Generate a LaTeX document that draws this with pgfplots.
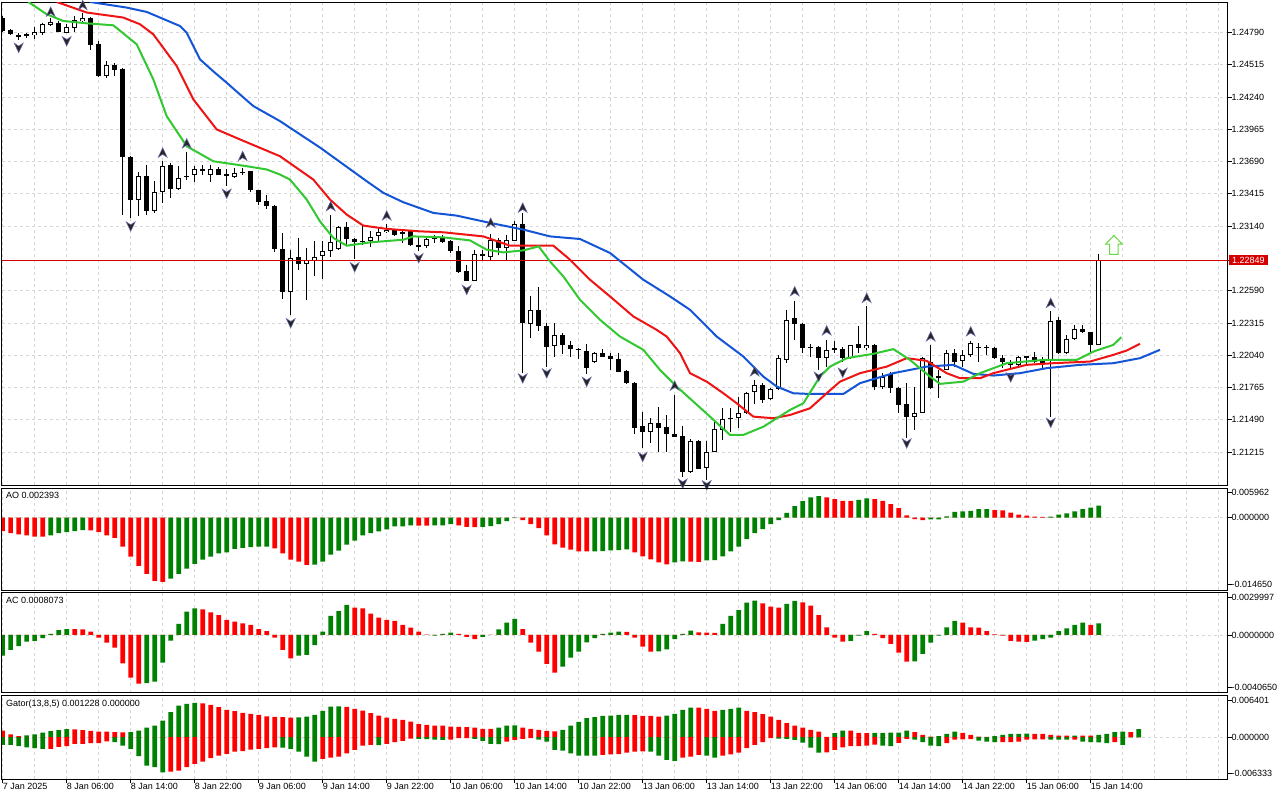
\documentclass[border=0pt]{standalone}
\usepackage{fontspec}
\setmainfont{Liberation Sans}
\usepackage{pgfplots}
\usepackage{pgfplotstable}
\pgfplotsset{compat=1.18}

\definecolor{mtgreen}{RGB}{0,128,0}
\definecolor{mtred}{RGB}{255,0,0}
\definecolor{jawc}{RGB}{20,85,215}
\definecolor{teethc}{RGB}{238,20,20}
\definecolor{lipsc}{RGB}{50,200,50}
\definecolor{gridc}{RGB}{215,215,215}
\definecolor{pricered}{RGB}{215,0,0}
\definecolor{arrowg}{RGB}{105,215,70}

\pgfdeclareplotmark{fup}{%
  \pgfpathmoveto{\pgfqpoint{0pt}{5pt}}%
  \pgfpathlineto{\pgfqpoint{4.5pt}{-4.5pt}}%
  \pgfpathlineto{\pgfqpoint{0pt}{-1.5pt}}%
  \pgfpathlineto{\pgfqpoint{-4.5pt}{-4.5pt}}%
  \pgfpathclose\pgfusepathqfillstroke}
\pgfdeclareplotmark{fdn}{%
  \pgfpathmoveto{\pgfqpoint{0pt}{-5pt}}%
  \pgfpathlineto{\pgfqpoint{4.5pt}{4.5pt}}%
  \pgfpathlineto{\pgfqpoint{0pt}{1.5pt}}%
  \pgfpathlineto{\pgfqpoint{-4.5pt}{4.5pt}}%
  \pgfpathclose\pgfusepathqfillstroke}
\pgfdeclareplotmark{bigup}{%
  \pgfpathmoveto{\pgfqpoint{0pt}{9.5pt}}%
  \pgfpathlineto{\pgfqpoint{8.3pt}{0.8pt}}%
  \pgfpathlineto{\pgfqpoint{4.2pt}{0.8pt}}%
  \pgfpathlineto{\pgfqpoint{4.2pt}{-9.5pt}}%
  \pgfpathlineto{\pgfqpoint{-4.2pt}{-9.5pt}}%
  \pgfpathlineto{\pgfqpoint{-4.2pt}{0.8pt}}%
  \pgfpathlineto{\pgfqpoint{-8.3pt}{0.8pt}}%
  \pgfpathclose\pgfusepathqstroke}

\tikzset{ptitle/.style={anchor=north west, inner sep=0pt, font=\fontsize{9}{10}\selectfont, xshift=4pt, yshift=-4.3pt}}

\pgfplotsset{
  mtaxis/.style={
    scale only axis, width=1225.5pt, xmin=-0.0875, xmax=153.1,
    anchor=north west,
    scaled y ticks=false, scaled x ticks=false,
    axis line style={line width=1pt, black},
    ytick pos=right, yticklabel pos=right,
    tick align=outside, major tick length=4pt, minor tick length=0pt,
    tick style={black, line width=0.8pt},
    grid style={dash pattern=on 3pt off 3pt, gridc, line width=0.8pt},
    every tick label/.append style={font=\fontsize{9}{10}\selectfont, inner sep=0pt},
    yticklabel style={anchor=west},
    clip=true,
  },
  topx/.style={
    xtick={0,4,...,152}, xticklabels={}, xmajorgrids,
    every x tick/.style={draw=none},
  },
  hbar/.style={ybar, bar width=4.6pt, bar shift=0pt, draw=none},
  wick/.style={draw=none, mark=none, forget plot,
    error bars/.cd, y dir=minus, y explicit, error mark=none,
    error bar style={line width=1pt, draw=black, solid}},
  body/.style 2 args={draw=none, mark=none, forget plot,
    error bars/.cd, y dir=both, y explicit, error mark=none,
    error bar style={line width=#1, draw=#2, solid}},
}

% ---------- candles (H1) ----------
\pgfplotstableread{
i o h l c
4 1.24765 1.24839 1.24737 1.24793
5 1.24788 1.24873 1.24767 1.24859
6 1.24853 1.24916 1.24844 1.24882
8 1.24788 1.24859 1.24788 1.24836
9 1.24831 1.24930 1.24793 1.24893
10 1.24887 1.24959 1.24873 1.24910
13 1.24418 1.24546 1.24404 1.24509
17 1.23360 1.23599 1.23223 1.23564
19 1.23266 1.23522 1.23252 1.23431
20 1.23428 1.23692 1.23337 1.23656
22 1.23457 1.23650 1.23450 1.23551
24 1.23579 1.23650 1.23513 1.23628
26 1.23579 1.23664 1.23513 1.23628
29 1.23559 1.23636 1.23551 1.23593
36 1.22583 1.22939 1.22384 1.22868
38 1.22817 1.22954 1.22512 1.22854
39 1.22845 1.23010 1.22711 1.22882
40 1.22882 1.23010 1.22692 1.22930
41 1.22925 1.23232 1.22873 1.23005
42 1.22945 1.23138 1.22939 1.23133
46 1.23010 1.23095 1.22959 1.23052
47 1.23061 1.23133 1.23010 1.23090
48 1.23087 1.23161 1.23081 1.23110
53 1.22967 1.23039 1.22954 1.23030
54 1.23030 1.23067 1.22996 1.23047
59 1.22677 1.22939 1.22669 1.22905
61 1.22877 1.23076 1.22839 1.23024
63 1.22954 1.23067 1.22854 1.23024
64 1.23016 1.23180 1.23010 1.23158
66 1.22308 1.22541 1.22186 1.22427
69 1.22120 1.22314 1.22029 1.22214
74 1.21981 1.22071 1.21972 1.22063
81 1.21384 1.21503 1.21290 1.21460
86 1.21047 1.21324 1.21040 1.21309
88 1.21082 1.21312 1.20977 1.21218
89 1.21218 1.21474 1.21212 1.21409
90 1.21403 1.21588 1.21318 1.21495
92 1.21503 1.21687 1.21418 1.21546
93 1.21546 1.21730 1.21540 1.21721
94 1.21730 1.21830 1.21625 1.21787
96 1.21665 1.21759 1.21659 1.21750
97 1.21750 1.22043 1.21745 1.22015
98 1.22000 1.22427 1.21972 1.22339
103 1.22015 1.22171 1.21943 1.22086
106 1.22015 1.22128 1.22010 1.22123
108 1.22100 1.22455 1.22086 1.22123
110 1.21773 1.21887 1.21750 1.21858
114 1.21517 1.21773 1.21403 1.21551
115 1.21551 1.22024 1.21545 1.22015
118 1.21915 1.22086 1.21910 1.22058
120 1.21992 1.22086 1.21943 1.22043
121 1.22043 1.22157 1.22029 1.22143
127 1.21958 1.22035 1.21943 1.22029
128 1.22024 1.22037 1.21958 1.22029
131 1.21995 1.22413 1.21517 1.22336
133 1.22058 1.22214 1.22052 1.22177
134 1.22177 1.22299 1.22171 1.22262
137 1.22128 1.22905 1.22125 1.22849
}\bull
\pgfplotstableread{
i o h l c
0 1.24910 1.24927 1.24790 1.24802
1 1.24810 1.24816 1.24765 1.24773
2 1.24767 1.24782 1.24725 1.24750
3 1.24769 1.24782 1.24739 1.24769
7 1.24867 1.24884 1.24790 1.24793
11 1.24910 1.24918 1.24639 1.24682
12 1.24688 1.24716 1.24410 1.24418
14 1.24509 1.24532 1.24418 1.24469
15 1.24475 1.24483 1.23238 1.23727
16 1.23727 1.23735 1.23209 1.23366
18 1.23570 1.23664 1.23238 1.23266
21 1.23656 1.23679 1.23380 1.23457
23 1.23570 1.23773 1.23536 1.23559
25 1.23622 1.23658 1.23579 1.23622
27 1.23628 1.23639 1.23575 1.23579
28 1.23587 1.23622 1.23479 1.23564
30 1.23599 1.23636 1.23579 1.23599
31 1.23607 1.23613 1.23428 1.23445
32 1.23445 1.23451 1.23323 1.23346
33 1.23351 1.23408 1.23286 1.23308
34 1.23314 1.23323 1.22916 1.22945
35 1.22948 1.23081 1.22518 1.22583
37 1.22877 1.23039 1.22768 1.22817
43 1.23133 1.23172 1.22982 1.23030
44 1.23030 1.23039 1.22862 1.23001
45 1.23016 1.23138 1.22982 1.23005
49 1.23104 1.23110 1.23052 1.23067
50 1.23090 1.23110 1.22996 1.23076
51 1.23101 1.23110 1.22967 1.22976
52 1.22982 1.23052 1.22925 1.22962
55 1.23047 1.23067 1.22996 1.23001
56 1.23010 1.23018 1.22911 1.22925
57 1.22933 1.22967 1.22740 1.22754
58 1.22760 1.22811 1.22669 1.22677
60 1.22905 1.22939 1.22839 1.22882
62 1.23024 1.23039 1.22896 1.22954
65 1.23158 1.23252 1.21887 1.22314
67 1.22427 1.22621 1.22250 1.22291
68 1.22291 1.22314 1.21943 1.22114
70 1.22214 1.22228 1.22052 1.22126
71 1.22126 1.22165 1.22024 1.22092
72 1.22092 1.22100 1.22006 1.22086
73 1.22080 1.22137 1.21881 1.21930
75 1.22063 1.22094 1.22024 1.22029
76 1.22035 1.22063 1.21915 1.22006
77 1.22006 1.22063 1.21895 1.21901
78 1.21909 1.21915 1.21796 1.21802
79 1.21807 1.21810 1.21369 1.21418
80 1.21437 1.21559 1.21247 1.21384
82 1.21460 1.21597 1.21218 1.21423
83 1.21431 1.21531 1.21218 1.21367
84 1.21367 1.21702 1.21340 1.21346
85 1.21352 1.21440 1.21000 1.21047
87 1.21309 1.21318 1.21070 1.21076
91 1.21503 1.21588 1.21384 1.21503
95 1.21787 1.21802 1.21631 1.21659
99 1.22356 1.22506 1.22171 1.22308
100 1.22308 1.22315 1.22063 1.22100
101 1.22109 1.22137 1.22029 1.22109
102 1.22109 1.22115 1.21915 1.22015
104 1.22094 1.22157 1.22058 1.22094
105 1.22094 1.22114 1.21986 1.22015
107 1.22137 1.22285 1.22058 1.22100
109 1.22128 1.22135 1.21745 1.21773
111 1.21878 1.21901 1.21716 1.21759
112 1.21759 1.21773 1.21546 1.21617
113 1.21625 1.21807 1.21332 1.21517
116 1.21986 1.22128 1.21752 1.21759
117 1.21858 1.21915 1.21674 1.21858
119 1.22058 1.22092 1.21943 1.21986
122 1.22109 1.22143 1.21986 1.22109
123 1.22109 1.22128 1.22043 1.22109
124 1.22100 1.22109 1.22010 1.22015
125 1.22015 1.22043 1.21930 1.21986
126 1.21986 1.22000 1.21915 1.21958
129 1.22029 1.22071 1.21972 1.21986
130 1.21995 1.22024 1.21930 1.21977
132 1.22342 1.22365 1.22052 1.22058
135 1.22265 1.22299 1.22228 1.22242
136 1.22237 1.22240 1.22071 1.22128
}\bear

% ---------- Alligator ----------
\pgfplotstableread{
i p
10.91 1.25049
15.5 1.25001
18.0 1.24964
22.16 1.24844
22.99 1.24788
23.82 1.24674
24.66 1.24560
26.29 1.24460
28.0 1.24361
29.66 1.24261
31.33 1.24162
34.66 1.24034
39.66 1.23809
45.5 1.23522
47.58 1.23423
50.08 1.23343
53.83 1.23252
56.75 1.23229
60.91 1.23167
65.08 1.23110
68.41 1.23052
72.16 1.23030
75.91 1.22911
80.08 1.22683
83.41 1.22541
85.91 1.22427
89.25 1.22199
92.58 1.22029
95.08 1.21858
96.75 1.21773
98.83 1.21716
100.91 1.21710
105.08 1.21710
107.16 1.21802
111.33 1.21887
115.5 1.21943
118.83 1.21958
121.33 1.21881
123.83 1.21867
127.16 1.21887
130.5 1.21930
134.66 1.21958
138.83 1.21972
142.16 1.22015
144.66 1.22086
}\jaw
\pgfplotstableread{
i p
6.75 1.25049
10.5 1.24959
15.08 1.24916
17.16 1.24859
18.83 1.24773
21.75 1.24503
23.83 1.24219
26.75 1.23963
29.66 1.23878
34.66 1.23735
38.83 1.23536
40.91 1.23366
43.0 1.23238
45.08 1.23144
48.0 1.23116
52.16 1.23095
55.08 1.23087
60.08 1.23052
63.41 1.22973
68.83 1.22973
70.91 1.22854
73.41 1.22683
75.91 1.22541
78.83 1.22370
81.75 1.22256
83.0 1.22199
84.66 1.22058
85.91 1.21887
88.0 1.21815
90.08 1.21716
91.75 1.21631
93.83 1.21517
96.33 1.21503
98.41 1.21531
100.91 1.21588
103.0 1.21716
104.66 1.21815
107.16 1.21887
110.5 1.21943
113.0 1.22015
115.5 1.21992
118.0 1.21887
119.66 1.21844
122.16 1.21844
123.83 1.21887
128.0 1.21958
131.33 1.21972
135.91 1.21986
138.83 1.22043
140.5 1.22080
142.16 1.22137
}\teeth
\pgfplotstableread{
i p
3.2 1.25049
5.5 1.24944
7.58 1.24887
10.5 1.24867
13.83 1.24850
16.75 1.24688
18.83 1.24389
20.5 1.24076
23.0 1.23820
26.33 1.23692
30.5 1.23650
33.0 1.23622
34.66 1.23579
35.91 1.23536
38.0 1.23366
39.66 1.23180
41.33 1.23039
43.0 1.22973
45.91 1.23001
50.08 1.23024
51.33 1.23052
55.08 1.23044
58.41 1.23018
60.5 1.22939
62.58 1.22916
65.08 1.22933
67.0 1.22967
68.41 1.22839
70.08 1.22711
72.16 1.22512
74.66 1.22342
77.16 1.22199
80.08 1.22086
82.16 1.21915
84.25 1.21773
88.41 1.21517
90.91 1.21361
92.58 1.21361
95.08 1.21431
98.41 1.21574
100.08 1.21631
102.16 1.21858
103.41 1.21943
105.5 1.22015
108.83 1.22052
111.33 1.22092
113.41 1.22000
115.91 1.21858
117.16 1.21796
120.08 1.21815
122.16 1.21887
125.5 1.21972
130.08 1.22000
134.25 1.22000
136.33 1.22071
138.83 1.22128
139.83 1.22194
}\lips

% ---------- Fractals ----------
\pgfplotstableread{
i p
6 1.24964
10 1.25021
20 1.23764
23 1.23843
30 1.23735
41 1.23308
48 1.23229
61 1.23167
65 1.23295
84 1.21779
94 1.21901
99 1.22583
103 1.22250
108 1.22527
116 1.22199
121 1.22242
131 1.22484
}\frup
\pgfplotstableread{
i p
2 1.24660
8 1.24716
16 1.23138
28 1.23417
36 1.22314
44 1.22791
52 1.22868
58 1.22598
65 1.21844
68 1.21887
73 1.21815
80 1.21175
85 1.20948
88 1.20934
102 1.21858
105 1.21892
113 1.21290
126 1.21853
131 1.21466
}\frdn

% ---------- AO ----------
\pgfplotstableread{
i v g
0 -0.00276 0
1 -0.00316 0
2 -0.00343 0
3 -0.00363 0
4 -0.00384 0
5 -0.00386 0
6 -0.00363 1
7 -0.00316 1
8 -0.00296 1
9 -0.00276 1
10 -0.00255 1
11 -0.00261 0
12 -0.00296 0
13 -0.00363 0
14 -0.00410 0
15 -0.00588 0
16 -0.00792 0
17 -0.00976 0
18 -0.01139 0
19 -0.01282 0
20 -0.01302 0
21 -0.01235 1
22 -0.01139 1
23 -0.01031 1
24 -0.00935 1
25 -0.00853 1
26 -0.00792 1
27 -0.00724 1
28 -0.00704 1
29 -0.00635 1
30 -0.00614 1
31 -0.00598 1
32 -0.00590 1
33 -0.00586 1
34 -0.00622 0
35 -0.00724 0
36 -0.00853 0
37 -0.00894 0
38 -0.00955 0
39 -0.00950 1
40 -0.00894 1
41 -0.00751 1
42 -0.00669 1
43 -0.00547 1
44 -0.00465 1
45 -0.00363 1
46 -0.00316 1
47 -0.00282 1
48 -0.00241 1
49 -0.00180 1
50 -0.00178 1
51 -0.00159 1
52 -0.00163 0
53 -0.00165 0
54 -0.00160 1
55 -0.00158 1
56 -0.00133 1
57 -0.00159 0
58 -0.00187 0
59 -0.00193 0
60 -0.00190 1
61 -0.00173 1
62 -0.00133 1
63 -0.00071 1
64 -0.00010 1
65 -0.00051 0
66 -0.00133 0
67 -0.00214 0
68 -0.00363 0
69 -0.00541 0
70 -0.00608 0
71 -0.00649 0
72 -0.00684 0
73 -0.00686 0
74 -0.00682 1
75 -0.00680 1
76 -0.00663 1
77 -0.00660 1
78 -0.00643 1
79 -0.00704 0
80 -0.00786 0
81 -0.00847 0
82 -0.00908 0
83 -0.00949 0
84 -0.00908 1
85 -0.00888 1
86 -0.00892 0
87 -0.00895 0
88 -0.00867 1
89 -0.00860 1
90 -0.00786 1
91 -0.00684 1
92 -0.00588 1
93 -0.00439 1
94 -0.00316 1
95 -0.00235 1
96 -0.00133 1
97 -0.00051 1
98 0.00092 1
99 0.00229 1
100 0.00331 1
101 0.00406 1
102 0.00433 1
103 0.00406 0
104 0.00371 0
105 0.00337 0
106 0.00335 0
107 0.00357 1
108 0.00385 1
109 0.00371 0
110 0.00337 0
111 0.00269 0
112 0.00188 0
113 0.00045 0
114 -0.00035 0
115 -0.00051 0
116 -0.00040 1
117 -0.00037 1
118 0.00024 1
119 0.00112 1
120 0.00126 1
121 0.00133 1
122 0.00167 1
123 0.00168 1
124 0.00147 0
125 0.00145 0
126 0.00100 0
127 0.00059 0
128 0.00039 0
129 0.00018 0
130 0.00015 0
131 0.00017 1
132 0.00059 1
133 0.00086 1
134 0.00126 1
135 0.00167 1
136 0.00202 1
137 0.00239 1
}\ao

% ---------- AC ----------
\pgfplotstableread{
i v g
0 -0.00146 1
1 -0.00106 1
2 -0.00078 1
3 -0.00047 1
4 -0.00042 1
5 -0.00023 1
6 0.00007 1
7 0.00035 1
8 0.00042 1
9 0.00041 0
10 0.00040 0
11 0.00023 0
12 -0.00019 0
13 -0.00054 0
14 -0.00089 0
15 -0.00200 0
16 -0.00301 0
17 -0.00343 0
18 -0.00340 1
19 -0.00329 1
20 -0.00195 1
21 -0.00040 1
22 0.00078 1
23 0.00165 1
24 0.00188 1
25 0.00181 0
26 0.00160 0
27 0.00141 0
28 0.00106 0
29 0.00094 0
30 0.00082 0
31 0.00071 0
32 0.00042 0
33 0.00028 0
34 -0.00019 0
35 -0.00106 0
36 -0.00165 0
37 -0.00146 1
38 -0.00141 1
39 -0.00071 1
40 0.00023 1
41 0.00134 1
42 0.00169 1
43 0.00212 1
44 0.00193 0
45 0.00188 0
46 0.00150 0
47 0.00122 0
48 0.00106 0
49 0.00099 0
50 0.00071 0
51 0.00052 0
52 0.00023 0
53 0.00002 0
54 -0.00005 1
55 0.00007 1
56 0.00016 1
57 0.00007 0
58 -0.00014 0
59 -0.00030 0
60 -0.00014 1
61 0.00001 1
62 0.00040 1
63 0.00087 1
64 0.00113 1
65 0.00042 0
66 -0.00054 0
67 -0.00118 0
68 -0.00204 0
69 -0.00266 0
70 -0.00223 1
71 -0.00160 1
72 -0.00118 1
73 -0.00052 1
74 -0.00023 1
75 0.00007 1
76 0.00016 1
77 0.00023 1
78 0.00022 0
79 -0.00019 0
80 -0.00082 0
81 -0.00118 0
82 -0.00116 1
83 -0.00101 1
84 -0.00030 1
85 0.00007 1
86 0.00030 1
87 0.00019 0
88 0.00016 0
89 0.00015 0
90 0.00078 1
91 0.00134 1
92 0.00176 1
93 0.00228 1
94 0.00242 1
95 0.00223 0
96 0.00200 0
97 0.00193 0
98 0.00219 1
99 0.00240 1
100 0.00230 0
101 0.00207 0
102 0.00141 0
103 0.00054 0
104 -0.00019 0
105 -0.00047 0
106 -0.00042 1
107 -0.00005 1
108 0.00028 1
109 0.00007 0
110 -0.00023 0
111 -0.00063 0
112 -0.00125 0
113 -0.00188 0
114 -0.00186 1
115 -0.00134 1
116 -0.00054 1
117 -0.00005 1
118 0.00054 1
119 0.00099 1
120 0.00087 0
121 0.00054 0
122 0.00052 0
123 0.00028 0
124 0.00005 0
125 -0.00005 0
126 -0.00042 0
127 -0.00047 0
128 -0.00049 0
129 -0.00040 1
130 -0.00030 1
131 -0.00019 1
132 0.00028 1
133 0.00047 1
134 0.00071 1
135 0.00087 1
136 0.00071 0
137 0.00081 1
}\ac

% ---------- Gator ----------
\pgfplotstableread{
i u ug d dg
0 0.00102 0 -0.00115 1
1 0.00045 0 -0.00115 1
2 0.00015 0 -0.00136 1
3 0.00030 1 -0.00152 1
4 0.00045 1 -0.00167 1
5 0.00068 1 -0.00177 1
6 0.00091 1 -0.00177 0
7 0.00106 1 -0.00147 0
8 0.00121 1 -0.00136 0
9 0.00120 0 -0.00102 0
10 0.00106 0 -0.00101 0
11 0.00096 0 -0.00091 0
12 0.00086 0 -0.00090 0
13 0.00085 0 -0.00061 0
14 0.00076 0 -0.00076 1
15 0.00075 0 -0.00126 1
16 0.00077 1 -0.00177 1
17 0.00102 1 -0.00288 1
18 0.00147 1 -0.00429 1
19 0.00177 1 -0.00455 1
20 0.00253 1 -0.00531 1
21 0.00379 1 -0.00520 0
22 0.00481 1 -0.00505 0
23 0.00505 1 -0.00455 0
24 0.00520 1 -0.00405 0
25 0.00515 0 -0.00368 0
26 0.00490 0 -0.00318 0
27 0.00455 0 -0.00277 0
28 0.00414 0 -0.00253 0
29 0.00394 0 -0.00217 0
30 0.00368 0 -0.00212 0
31 0.00353 0 -0.00186 0
32 0.00338 0 -0.00177 0
33 0.00318 0 -0.00167 0
34 0.00310 0 -0.00152 0
35 0.00304 0 -0.00156 1
36 0.00298 0 -0.00177 1
37 0.00302 1 -0.00217 1
38 0.00314 1 -0.00293 1
39 0.00338 1 -0.00368 1
40 0.00399 1 -0.00329 0
41 0.00465 1 -0.00308 0
42 0.00468 1 -0.00293 0
43 0.00462 0 -0.00243 0
44 0.00429 0 -0.00193 0
45 0.00405 0 -0.00126 0
46 0.00364 0 -0.00117 0
47 0.00329 0 -0.00118 1
48 0.00299 0 -0.00102 0
49 0.00277 0 -0.00076 0
50 0.00262 0 -0.00056 0
51 0.00238 0 -0.00022 0
52 0.00197 0 -0.00026 1
53 0.00186 0 -0.00028 1
54 0.00177 0 -0.00035 1
55 0.00176 0 -0.00041 1
56 0.00162 0 -0.00038 0
57 0.00156 0 -0.00015 0
58 0.00152 0 -0.00012 0
59 0.00147 0 -0.00026 1
60 0.00126 0 -0.00056 1
61 0.00125 0 -0.00102 1
62 0.00147 1 -0.00104 1
63 0.00177 1 -0.00065 0
64 0.00178 1 -0.00041 0
65 0.00147 0 -0.00026 0
66 0.00126 0 -0.00015 0
67 0.00111 0 -0.00035 1
68 0.00096 0 -0.00065 1
69 0.00090 0 -0.00193 1
70 0.00111 1 -0.00202 1
71 0.00177 1 -0.00243 1
72 0.00232 1 -0.00277 1
73 0.00288 1 -0.00279 1
74 0.00303 1 -0.00280 1
75 0.00323 1 -0.00268 0
76 0.00329 1 -0.00258 0
77 0.00338 1 -0.00256 0
78 0.00339 1 -0.00232 0
79 0.00337 0 -0.00217 0
80 0.00323 0 -0.00215 0
81 0.00322 0 -0.00218 1
82 0.00314 0 -0.00277 1
83 0.00329 1 -0.00344 1
84 0.00353 1 -0.00359 1
85 0.00414 1 -0.00308 0
86 0.00450 1 -0.00293 0
87 0.00448 0 -0.00268 0
88 0.00429 0 -0.00277 1
89 0.00399 0 -0.00308 1
90 0.00414 1 -0.00277 0
91 0.00429 1 -0.00258 0
92 0.00450 1 -0.00232 0
93 0.00399 0 -0.00167 0
94 0.00379 0 -0.00117 0
95 0.00349 0 -0.00076 0
96 0.00314 0 -0.00015 0
97 0.00262 0 -0.00020 1
98 0.00212 0 -0.00026 1
99 0.00177 0 -0.00041 1
100 0.00147 0 -0.00080 1
101 0.00111 0 -0.00156 1
102 0.00086 0 -0.00232 1
103 0.00005 0 -0.00230 0
104 0.00061 1 -0.00193 0
105 0.00102 1 -0.00152 0
106 0.00100 0 -0.00136 0
107 0.00065 0 -0.00135 0
108 0.00064 0 -0.00126 0
109 0.00066 1 -0.00111 0
110 0.00067 1 -0.00126 1
111 0.00068 1 -0.00136 1
112 0.00069 1 -0.00086 0
113 0.00102 1 -0.00026 0
114 0.00076 0 -0.00035 1
115 0.00035 0 -0.00076 1
116 0.00008 0 -0.00126 1
117 0.00015 1 -0.00136 1
118 0.00050 1 -0.00091 0
119 0.00086 1 -0.00035 0
120 0.00065 0 -0.00033 0
121 0.00035 0 -0.00030 0
122 0.00008 0 -0.00050 1
123 0.00005 0 -0.00065 1
124 0.00015 1 -0.00076 1
125 0.00035 1 -0.00075 0
126 0.00050 1 -0.00074 0
127 0.00052 1 -0.00065 0
128 0.00053 1 -0.00035 0
129 0.00050 0 -0.00034 0
130 0.00049 0 -0.00033 0
131 0.00035 0 -0.00035 1
132 0.00026 0 -0.00036 1
133 0.00025 0 -0.00038 1
134 0.00026 1 -0.00035 0
135 0.00025 0 -0.00065 1
136 0.00023 0 -0.00076 1
137 0.00035 1 -0.00079 1
138 0.00050 1 -0.00091 1
139 0.00076 1 -0.00076 0
140 0.00086 1 -0.00117 1
141 0.00076 0 0 0
142 0.00123 1 0 0
}\gator

\begin{document}
\begin{tikzpicture}[x=1pt,y=1pt]
\fill[white] (0pt,0pt) rectangle (1280pt,-800pt);
\useasboundingbox (0pt,0pt) rectangle (1280pt,-800pt);

% ================= main price panel =================
\begin{axis}[mtaxis, topx, at={(2pt,-2.3pt)}, height=483pt,
  ymin=1.20932, ymax=1.25046,
  ytick={1.21215,1.21490,1.21765,1.22040,1.22315,1.22590,1.23140,1.23415,1.23690,1.23965,1.24240,1.24515,1.24790},
  yticklabels={1.21215,1.21490,1.21765,1.22040,1.22315,1.22590,1.23140,1.23415,1.23690,1.23965,1.24240,1.24515,1.24790},
  ymajorgrids,
  extra y ticks={1.22849}, extra y tick labels={1.22849},
  extra y tick style={grid=none, yticklabel style={fill=pricered, text=white, inner xsep=3pt, inner ysep=1.8pt, xshift=-2.5pt}},
]
% wicks
\addplot[wick] table[x=i, y=h, y error minus expr={\thisrow{h}-\thisrow{l}}] \bull;
\addplot[wick] table[x=i, y=h, y error minus expr={\thisrow{h}-\thisrow{l}}] \bear;
% bearish bodies
\addplot[body={5pt}{black}] table[x=i, y expr={(\thisrow{o}+\thisrow{c})/2}, y error expr={max(abs(\thisrow{o}-\thisrow{c})/2,0.000045)}] \bear;
% bullish bodies: black outline then white inside
\addplot[body={5pt}{black}] table[x=i, y expr={(\thisrow{o}+\thisrow{c})/2}, y error expr={max(abs(\thisrow{o}-\thisrow{c})/2,0.000045)}] \bull;
\addplot[body={3pt}{white}] table[x=i, y expr={(\thisrow{o}+\thisrow{c})/2}, y error expr={max(abs(\thisrow{o}-\thisrow{c})/2-0.000085,0)}] \bull;
% bid line
\addplot[pricered, line width=1pt, forget plot] coordinates {(-1,1.22849) (154,1.22849)};
% alligator
\addplot[jawc, line width=2pt] table[x=i, y=p] \jaw;
\addplot[teethc, line width=2pt] table[x=i, y=p] \teeth;
\addplot[lipsc, line width=2pt] table[x=i, y=p] \lips;
% fractals
\addplot[only marks, mark=fup, mark options={fill=black!85, draw=black!55!blue!60, line width=0.5pt}] table[x=i, y=p] \frup;
\addplot[only marks, mark=fdn, mark options={fill=black!85, draw=black!55!blue!60, line width=0.5pt}] table[x=i, y=p] \frdn;
% signal arrow
\addplot[only marks, mark=bigup, mark options={draw=arrowg, line width=1pt}] coordinates {(138.9,1.22979)};
\end{axis}

% ================= AO =================
\begin{axis}[mtaxis, topx, at={(2pt,-488pt)}, height=102pt,
  ymin=-0.01465, ymax=0.005962,
  ytick={0}, yticklabels={0.000000}, ymajorgrids,
  extra y ticks={0.005093,-0.013498}, extra y tick labels={0.005962,-0.014650},
  extra y tick style={grid=none},
]
\addplot[hbar, fill=mtgreen] table[x=i, y expr={\thisrow{g}==1 ? \thisrow{v} : 0}] \ao;
\addplot[hbar, fill=mtred] table[x=i, y expr={\thisrow{g}==0 ? \thisrow{v} : 0}] \ao;
\node[ptitle] at (rel axis cs:0,1) {AO 0.002393};
\end{axis}

% ================= AC =================
\begin{axis}[mtaxis, topx, at={(2pt,-592.5pt)}, height=100pt,
  ymin=-0.004065, ymax=0.0029997,
  ytick={0}, yticklabels={0.0000000}, ymajorgrids,
  extra y ticks={0.002661,-0.003698}, extra y tick labels={0.0029997,-0.0040650},
  extra y tick style={grid=none},
]
\addplot[hbar, fill=mtgreen] table[x=i, y expr={\thisrow{g}==1 ? \thisrow{v} : 0}] \ac;
\addplot[hbar, fill=mtred] table[x=i, y expr={\thisrow{g}==0 ? \thisrow{v} : 0}] \ac;
\node[ptitle] at (rel axis cs:0,1) {AC 0.0008073};
\end{axis}

% ================= Gator =================
\begin{axis}[mtaxis, at={(2pt,-695pt)}, height=84pt,
  ymin=-0.006333, ymax=0.006401,
  ytick={0}, yticklabels={0.000000}, ymajorgrids,
  extra y ticks={0.005537,-0.005530}, extra y tick labels={0.006401,-0.006333},
  extra y tick style={grid=none},
  xtick pos=left,
  xtick={0,8,...,136},
  xticklabels={7 Jan 2025,8 Jan 06:00,8 Jan 14:00,8 Jan 22:00,9 Jan 06:00,9 Jan 14:00,9 Jan 22:00,10 Jan 06:00,10 Jan 14:00,10 Jan 22:00,13 Jan 06:00,13 Jan 14:00,13 Jan 22:00,14 Jan 06:00,14 Jan 14:00,14 Jan 22:00,15 Jan 06:00,15 Jan 14:00},
  minor xtick={4,12,...,148,144,152},
  xmajorgrids, xminorgrids,
  minor grid style={dash pattern=on 3pt off 3pt, gridc, line width=0.8pt},
  xticklabel style={anchor=north west},
]
\addplot[hbar, fill=mtgreen] table[x=i, y expr={\thisrow{ug}==1 ? \thisrow{u} : 0}] \gator;
\addplot[hbar, fill=mtred] table[x=i, y expr={\thisrow{ug}==0 ? \thisrow{u} : 0}] \gator;
\addplot[hbar, fill=mtgreen] table[x=i, y expr={\thisrow{dg}==1 ? \thisrow{d} : 0}] \gator;
\addplot[hbar, fill=mtred] table[x=i, y expr={\thisrow{dg}==0 ? \thisrow{d} : 0}] \gator;
\node[ptitle] at (rel axis cs:0,1) {Gator(13,8,5) 0.001228 0.000000};
\end{axis}
\end{tikzpicture}
\end{document}
